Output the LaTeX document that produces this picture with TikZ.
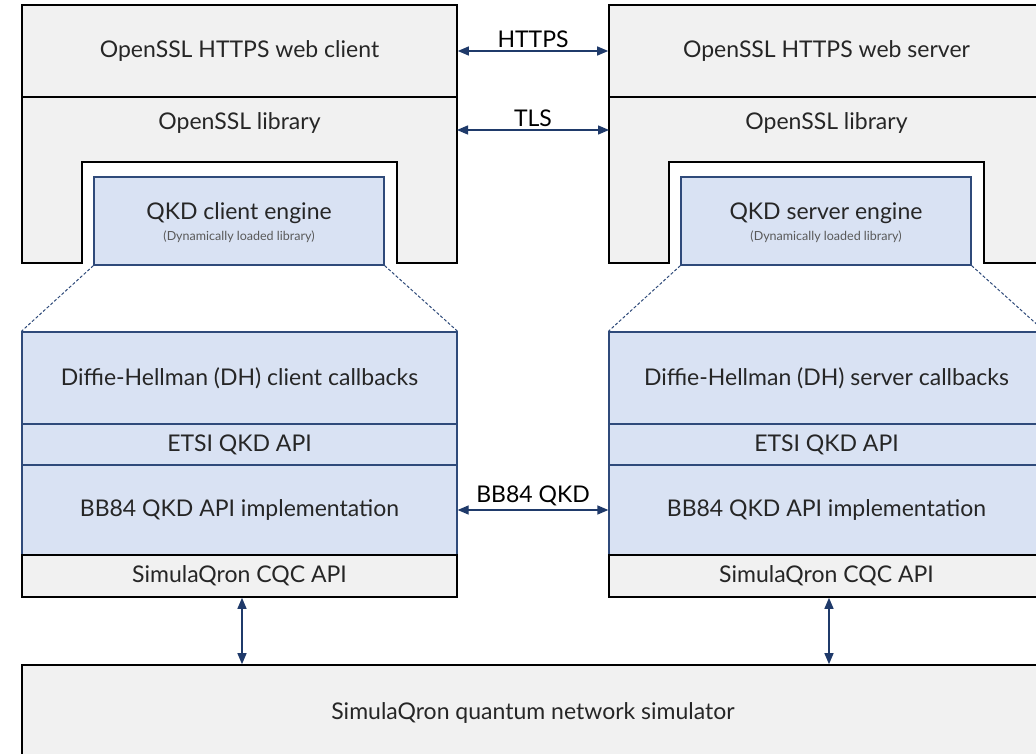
\documentclass[tikz,border=0pt]{standalone}
\usepackage{fontspec}
\setmainfont{Lato}
\usetikzlibrary{arrows.meta,calc}
\definecolor{gfill}{HTML}{F1F1F1}
\definecolor{bfill}{HTML}{D9E2F3}
\definecolor{bline}{HTML}{2F4A7A}
\definecolor{aline}{HTML}{1F3A6A}
\tikzset{
  graybox/.style={draw=black, line width=1.6pt, fill=gfill, inner sep=0pt, font=\fontsize{23}{26}\selectfont, text=black!85},
  bluebox/.style={draw=bline, line width=1.3pt, fill=bfill, inner sep=0pt, font=\fontsize{23}{26}\selectfont, text=black!85},
  lbl/.style={inner sep=0pt, font=\fontsize{23}{26}\selectfont, text=black!85},
  smalllbl/.style={inner sep=0pt, font=\fontsize{12.5}{14}\selectfont, text=black!65},
  arr/.style={draw=aline, line width=1.3pt, {Triangle[length=11pt,width=9pt]}-{Triangle[length=11pt,width=9pt]}},
  zoomline/.style={draw=bline, line width=1pt, dash pattern=on 3pt off 2pt}
}
\begin{document}
\begin{tikzpicture}[x=1pt,y=-1pt]
\useasboundingbox (0,0) rectangle (1036,754);
\clip (0,0) rectangle (1036,754);
\fill[white] (0,0) rectangle (1036,754);
\foreach \o in {0,587}{
  \begin{scope}[xshift=\o]
  \filldraw[fill=gfill, draw=black, line width=1.6pt] (22,97) -- (22,263) -- (82,263) -- (82,162) -- (397,162) -- (397,263) -- (457,263) -- (457,97) -- cycle;
  \end{scope}
}
\node[graybox, minimum width=435pt, minimum height=92pt] (webL) at (239.5,51) {OpenSSL HTTPS web client};
\node[graybox, minimum width=435pt, minimum height=92pt] (webR) at (826.5,51) {OpenSSL HTTPS web server};
\node[lbl] (libL) at (239.5,123) {OpenSSL library};
\node[lbl] (libR) at (826.5,123) {OpenSSL library};
\node[bluebox, minimum width=290pt, minimum height=88pt] (engL) at (239,221) {};
\node[bluebox, minimum width=290pt, minimum height=88pt] (engR) at (826,221) {};
\node[lbl] (engLt) at (239,213) {QKD client engine};
\node[smalllbl] (engLs) at (239,237) {(Dynamically loaded library)};
\node[lbl] (engRt) at (826,213) {QKD server engine};
\node[smalllbl] (engRs) at (826,237) {(Dynamically loaded library)};
\node[bluebox, minimum width=435pt, minimum height=92pt] (dhL) at (239.5,378) {Diffie-Hellman (DH) client callbacks};
\node[bluebox, minimum width=435pt, minimum height=41pt] (etsiL) at (239.5,444.5) {ETSI QKD API};
\node[bluebox, minimum width=435pt, minimum height=90pt] (bbL) at (239.5,510) {BB84 QKD API implementation};
\node[graybox, minimum width=435pt, minimum height=42pt] (cqcL) at (239.5,576) {SimulaQron CQC API};
\node[bluebox, minimum width=435pt, minimum height=92pt] (dhR) at (826.5,378) {Diffie-Hellman (DH) server callbacks};
\node[bluebox, minimum width=435pt, minimum height=41pt] (etsiR) at (826.5,444.5) {ETSI QKD API};
\node[bluebox, minimum width=435pt, minimum height=90pt] (bbR) at (826.5,510) {BB84 QKD API implementation};
\node[graybox, minimum width=435pt, minimum height=42pt] (cqcR) at (826.5,576) {SimulaQron CQC API};
\node[graybox, minimum width=1038pt, minimum height=115pt] (sim) at (541,722.5) {};
\node[lbl] (simt) at (533,713) {SimulaQron quantum network simulator};
\draw[zoomline] (engL.south west) -- (dhL.north west);
\draw[zoomline] (engL.south east) -- (dhL.north east);
\draw[zoomline] (engR.south west) -- (dhR.north west);
\draw[zoomline] (engR.south east) -- (dhR.north east);
\coordinate (tlsL) at (457,130);
\coordinate (tlsR) at (609,130);
\draw[arr] (webL.east) -- node[lbl, above=3pt, text=black] {HTTPS} (webR.west);
\draw[arr] (tlsL) -- node[lbl, above=3pt, text=black] {TLS} (tlsR);
\draw[arr] (bbL.east) -- node[lbl, above=3pt, text=black] {BB84 QKD} (bbR.west);
\draw[arr] ([xshift=2.5pt]cqcL.south) -- ([xshift=2.5pt]cqcL.south |- sim.north);
\draw[arr] ([xshift=2.5pt]cqcR.south) -- ([xshift=2.5pt]cqcR.south |- sim.north);
\end{tikzpicture}
\end{document}
